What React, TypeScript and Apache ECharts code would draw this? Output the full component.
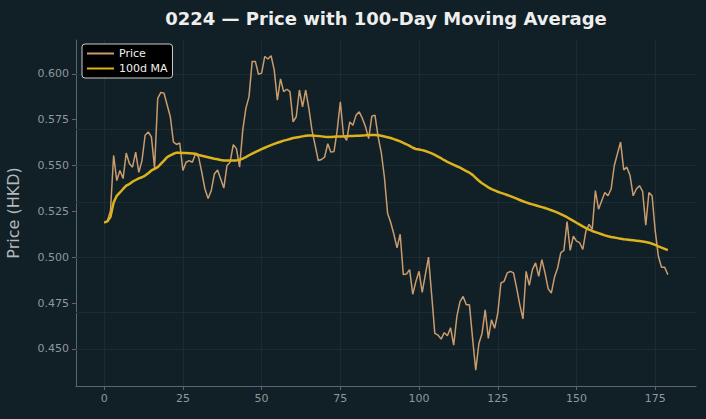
import React, { useEffect, useRef } from "react";
import * as echarts from "echarts";

const price: number[] = [
  0.5188, 0.5198, 0.5253, 0.5555, 0.5418, 0.5473, 0.5429, 0.5568, 0.5511, 0.5491,
  0.5573, 0.5463, 0.5527, 0.5665, 0.5683, 0.5656, 0.5487, 0.5866, 0.5899, 0.5894,
  0.5830, 0.5766, 0.5628, 0.5615, 0.5623, 0.5473, 0.5518, 0.5527, 0.5518, 0.5564,
  0.5546, 0.5463, 0.5372, 0.5320, 0.5363, 0.5454, 0.5476, 0.5427, 0.5377, 0.5500,
  0.5518, 0.5614, 0.5592, 0.5491, 0.5692, 0.5812, 0.5876, 0.6068, 0.6068, 0.5998,
  0.6004, 0.6095, 0.6081, 0.6099, 0.6022, 0.5857, 0.5973, 0.5903, 0.5916, 0.5903,
  0.5738, 0.5766, 0.5912, 0.5820, 0.5912, 0.5812, 0.5692, 0.5610, 0.5527, 0.5533,
  0.5546, 0.5619, 0.5573, 0.5577, 0.5692, 0.5848, 0.5665, 0.5637, 0.5738, 0.5720,
  0.5775, 0.5793, 0.5757, 0.5711, 0.5647, 0.5769, 0.5775, 0.5656, 0.5570, 0.5436,
  0.5240, 0.5189, 0.5125, 0.5051, 0.5125, 0.4905, 0.4908, 0.4932, 0.4798, 0.4868,
  0.4923, 0.4808, 0.4905, 0.5000, 0.4795, 0.4584, 0.4575, 0.4553, 0.4588, 0.4571,
  0.4615, 0.4520, 0.4676, 0.4758, 0.4786, 0.4740, 0.4740, 0.4557, 0.4383, 0.4529,
  0.4584, 0.4713, 0.4557, 0.4658, 0.4612, 0.4694, 0.4859, 0.4868, 0.4914, 0.4923,
  0.4914, 0.4831, 0.4740, 0.4663, 0.4923, 0.4846, 0.4932, 0.4969, 0.4896, 0.4987,
  0.4914, 0.4828, 0.4804, 0.4890, 0.4941, 0.5024, 0.5037, 0.5194, 0.5037, 0.5115,
  0.5088, 0.5079, 0.5042, 0.5143, 0.5179, 0.5152, 0.5363, 0.5262, 0.5308, 0.5353,
  0.5335, 0.5372, 0.5500, 0.5564, 0.5628, 0.5476, 0.5491, 0.5445, 0.5335, 0.5372,
  0.5390, 0.5359, 0.5174, 0.5353, 0.5335, 0.5143, 0.5005, 0.4945, 0.4945, 0.4905,
];

const ma100: number[] = [
  0.5188, 0.5195, 0.5220, 0.5298, 0.5335, 0.5353, 0.5372, 0.5390, 0.5399, 0.5412,
  0.5421, 0.5430, 0.5436, 0.5445, 0.5458, 0.5473, 0.5482, 0.5491, 0.5509, 0.5527,
  0.5546, 0.5555, 0.5564, 0.5570, 0.5570, 0.5568, 0.5568, 0.5567, 0.5566, 0.5564,
  0.5558, 0.5553, 0.5549, 0.5545, 0.5541, 0.5537, 0.5534, 0.5530, 0.5528, 0.5527,
  0.5527, 0.5527, 0.5528, 0.5531, 0.5538, 0.5546, 0.5556, 0.5565, 0.5573, 0.5581,
  0.5589, 0.5597, 0.5604, 0.5611, 0.5618, 0.5624, 0.5630, 0.5636, 0.5640, 0.5645,
  0.5650, 0.5653, 0.5656, 0.5659, 0.5662, 0.5664, 0.5664, 0.5662, 0.5661, 0.5659,
  0.5657, 0.5656, 0.5656, 0.5657, 0.5658, 0.5659, 0.5659, 0.5660, 0.5661, 0.5661,
  0.5662, 0.5663, 0.5664, 0.5665, 0.5667, 0.5667, 0.5667, 0.5665, 0.5662, 0.5658,
  0.5654, 0.5650, 0.5644, 0.5638, 0.5632, 0.5624, 0.5616, 0.5607, 0.5597, 0.5590,
  0.5587, 0.5584, 0.5579, 0.5573, 0.5566, 0.5558, 0.5549, 0.5540, 0.5529, 0.5520,
  0.5512, 0.5504, 0.5496, 0.5488, 0.5479, 0.5470, 0.5461, 0.5449, 0.5433, 0.5417,
  0.5403, 0.5392, 0.5381, 0.5371, 0.5364, 0.5357, 0.5351, 0.5345, 0.5339, 0.5333,
  0.5326, 0.5319, 0.5312, 0.5305, 0.5299, 0.5293, 0.5288, 0.5283, 0.5278, 0.5273,
  0.5268, 0.5262, 0.5256, 0.5250, 0.5243, 0.5235, 0.5227, 0.5218, 0.5208, 0.5198,
  0.5188, 0.5178, 0.5168, 0.5159, 0.5150, 0.5143, 0.5137, 0.5131, 0.5125, 0.5119,
  0.5114, 0.5110, 0.5107, 0.5104, 0.5101, 0.5098, 0.5096, 0.5094, 0.5092, 0.5090,
  0.5088, 0.5086, 0.5083, 0.5079, 0.5073, 0.5067, 0.5059, 0.5052, 0.5045, 0.5038,
];

const xTicks: number[] = [0, 25, 50, 75, 100, 125, 150, 175];
const yTicks: number[] = [0.45, 0.475, 0.5, 0.525, 0.55, 0.575, 0.6];

const BG = "#111f26";
const FONT = "DejaVu Sans";

export default function App() {
  const ref = useRef<HTMLDivElement>(null);
  useEffect(() => {
    if (!ref.current) return;
    const chart = echarts.init(ref.current, null, { renderer: "svg" });
    const n = price.length;
    const xMin = -(n - 1) * 0.05;
    const xMax = (n - 1) * 1.05;
    const all = price.concat(ma100);
    const lo = Math.min(...all);
    const hi = Math.max(...all);
    const yMin = lo - (hi - lo) * 0.05;
    const yMax = hi + (hi - lo) * 0.05;
    const gridStyle = { color: "#1b2b33", width: 1, type: "solid" as const };
    const axisColor = "#5d666b";
    chart.setOption({
      animation: false,
      backgroundColor: BG,
      textStyle: { fontFamily: FONT },
      graphic: [
        {
          type: "text",
          x: 386,
          y: 18,
          style: {
            text: "0224 — Price with 100-Day Moving Average",
            font: `bold 18px "${FONT}"`,
            fill: "#eeeeee",
            textAlign: "center",
            textVerticalAlign: "middle",
          },
        },
      ],
      grid: {
        left: 76,
        right: 10,
        top: 40,
        bottom: 33,
        containLabel: false,
        outerBoundsMode: "none",
      },
      legend: {
        left: 82,
        top: 44,
        orient: "vertical",
        backgroundColor: "#000000",
        borderColor: "#cccccc",
        borderWidth: 1,
        borderRadius: 3,
        padding: [4, 5, 4, 4],
        itemGap: 4,
        itemWidth: 27,
        itemHeight: 12,
        itemStyle: { opacity: 0 },
        textStyle: { color: "#f0f0f0", fontSize: 11, fontFamily: FONT },
        data: ["Price", "100d MA"],
      },
      xAxis: {
        type: "value",
        min: xMin,
        max: xMax,
        splitLine: { show: false },
        axisLine: { show: true, onZero: false, lineStyle: { color: axisColor } },
        axisTick: {
          show: true,
          length: 4,
          customValues: xTicks,
          lineStyle: { color: axisColor },
        },
        axisLabel: {
          customValues: xTicks,
          color: "#8f989d",
          fontSize: 11,
          fontFamily: FONT,
          margin: 7,
        },
      },
      yAxis: {
        type: "value",
        min: yMin,
        max: yMax,
        name: "Price (HKD)",
        nameLocation: "middle",
        nameGap: 55,
        nameTextStyle: { color: "#b3b8bb", fontSize: 16, fontFamily: FONT },
        splitLine: { show: false },
        axisLine: { show: true, onZero: false, lineStyle: { color: axisColor } },
        axisTick: {
          show: true,
          length: 4,
          customValues: yTicks,
          lineStyle: { color: axisColor },
        },
        axisLabel: {
          customValues: yTicks,
          color: "#8f989d",
          fontSize: 11,
          fontFamily: FONT,
          margin: 7,
          formatter: (v: number) => v.toFixed(3),
        },
      },
      series: [
        {
          name: "Price",
          type: "line",
          data: price.map((v, i) => [i, v]),
          symbol: "none",
          lineStyle: { color: "#c99c6e", width: 1.5 },
          itemStyle: { color: "#c99c6e" },
          z: 3,
          markLine: {
            silent: true,
            symbol: ["none", "none"],
            label: { show: false },
            lineStyle: gridStyle,
            z: 1,
            data: [
              ...xTicks.map((t) => ({ xAxis: t })),
              ...yTicks.map((t) => ({ yAxis: t })),
            ],
          },
        },
        {
          name: "100d MA",
          type: "line",
          data: ma100.map((v, i) => [i, v]),
          symbol: "none",
          lineStyle: { color: "#dcb31c", width: 2.5 },
          itemStyle: { color: "#dcb31c" },
          z: 4,
        },
      ],
    });
    return () => chart.dispose();
  }, []);
  return (
    <div
      ref={ref}
      style={{ position: "fixed", left: 0, top: 0, width: 706, height: 419, background: BG }}
    />
  );
}
